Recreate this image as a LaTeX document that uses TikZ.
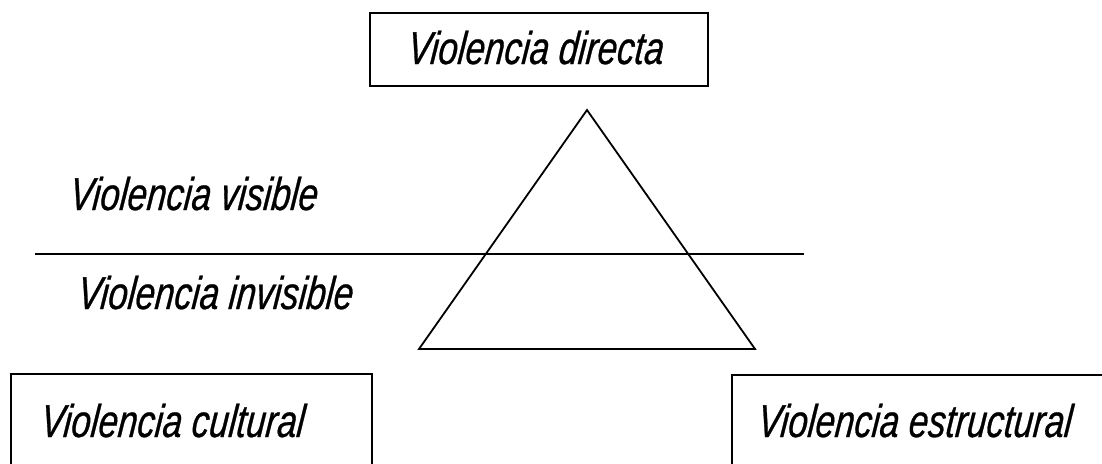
\documentclass[tikz,border=0pt]{standalone}
\usepackage{fontspec}
\newfontfamily\vfont[FakeStretch=0.76,FakeSlant=0.1,FakeBold=0.6]{Liberation Sans}
\begin{document}
\begin{tikzpicture}[x=0.5pt,y=0.5pt,line width=0.9pt,
    lbl/.style={anchor=base west,inner sep=0pt,font=\vfont\itshape\fontsize{23}{27}\selectfont},
    box/.style={draw,rectangle,inner sep=0pt}]
      \useasboundingbox (0,0) rectangle (1102,463);
      \clip (0,0) rectangle (1102,463);

      % BOXES
      % directa
      \node[box,minimum width=169pt,minimum height=36.5pt] (directa) at (539,413.5) {};
      \node[lbl] (tdirecta) at (406,399) {Violencia directa};

      % cultural
      \node[box,anchor=north west,minimum width=180.5pt,minimum height=60pt] (cultural) at (10,90) {};
      \node[lbl] (tcultural) at (39,26) {Violencia cultural};

      % estructural
      \node[box,anchor=north west,minimum width=200pt,minimum height=60pt] (estructural) at (731,89) {};
      \node[lbl] (testructural) at (756,26) {Violencia estructural};

      % TRIANGLE
      \coordinate (apex) at (587,353);
      \coordinate (baseL) at (419,114);
      \coordinate (baseR) at (755,114);
      \draw (apex) -- (baseL) -- (baseR) -- cycle;

      % LINE
      \coordinate (lineL) at (35,209);
      \coordinate (lineR) at (804,209);
      \draw (lineL) -- (lineR);
      \node[lbl] (visible) at (68,253) {Violencia visible};
      \node[lbl] (invisible) at (76,154) {Violencia invisible};
    \end{tikzpicture}
\end{document}
